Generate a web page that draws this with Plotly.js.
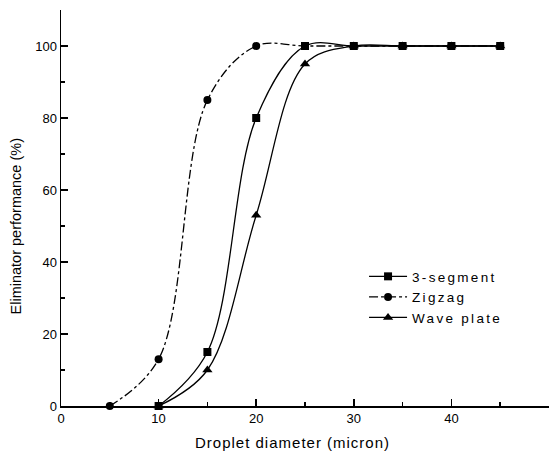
<!DOCTYPE html>
<html>
<head>
<meta charset="utf-8">
<script src="https://cdn.plot.ly/plotly-3.0.1.min.js"></script>
<style>
html,body{margin:0;padding:0;background:#fff}
#chart{width:554px;height:454px}
#chart .legendtext{letter-spacing:2.3px}
#chart g.legend g.scrollbox{clip-path:none !important}
#chart g.legend{clip-path:none !important}
#chart g.annotation[data-index="0"] text{letter-spacing:1px}
</style>
</head>
<body>
<div id="chart"></div>
<script>
var seg3X = [10, 15, 20, 25, 30, 35, 40, 45];
var seg3Y = [0, 15, 80, 100, 100, 100, 100, 100];
var zigX = [5, 10, 15, 20, 25, 30, 35, 40, 45];
var zigY = [0, 13, 85, 100, 100, 100, 100, 100, 100];
var waveX = [10, 15, 20, 25, 30, 35, 40, 45];
var waveY = [0, 10, 53, 95, 100, 100, 100, 100];
var seriesNames = ['3-segment', 'Zigzag', 'Wave plate'];
var xTitle = 'Droplet diameter (micron)';
var yTitle = 'Eliminator performance (%)';

var FONT = 'Liberation Sans, Arial, sans-serif';
var traces = [
  {x: seg3X, y: seg3Y, name: seriesNames[0], mode: 'lines+markers',
   line: {color: '#000', width: 1.3, shape: 'spline', smoothing: 1},
   marker: {symbol: 'square', size: 8, color: '#000'}, cliponaxis: false},
  {x: zigX, y: zigY, name: seriesNames[1], mode: 'lines+markers',
   line: {color: '#000', width: 1.3, shape: 'spline', smoothing: 1, dash: 'dashdot'},
   marker: {symbol: 'circle', size: 8, color: '#000'}, cliponaxis: false},
  {x: waveX, y: waveY, name: seriesNames[2], mode: 'lines+markers',
   line: {color: '#000', width: 1.3, shape: 'spline', smoothing: 1},
   marker: {symbol: 'triangle-up', size: 9, color: '#000'}, cliponaxis: false}
];

var layout = {
  width: 554, height: 454,
  margin: {l: 61, r: 5, t: 10, b: 48},
  paper_bgcolor: '#fff', plot_bgcolor: '#fff',
  font: {family: FONT, color: '#000', size: 13},
  showlegend: true,
  legend: {x: 0.621, y: 0.366, xanchor: 'left', yanchor: 'top', bgcolor: 'rgba(0,0,0,0)',
           itemwidth: 38, font: {family: FONT, size: 13.5, color: '#000'}},
  xaxis: {range: [0, 50], dtick: 10, tick0: 0, showgrid: false, zeroline: false,
          showline: true, linecolor: '#000', linewidth: 1.5,
          ticks: 'inside', ticklen: 7, tickwidth: 1.5, tickcolor: '#000',
          minor: {dtick: 5, ticks: 'inside', ticklen: 4, tickwidth: 1.5, tickcolor: '#000'},
          tickfont: {size: 13}},
  yaxis: {range: [0, 110], dtick: 20, tick0: 0, showgrid: false, zeroline: false,
          showline: true, linecolor: '#000', linewidth: 1.5,
          ticks: 'inside', ticklen: 7, tickwidth: 1.5, tickcolor: '#000',
          minor: {dtick: 10, ticks: 'inside', ticklen: 4, tickwidth: 1.5, tickcolor: '#000'},
          tickfont: {size: 13}},
  annotations: [
    {text: xTitle, xref: 'paper', yref: 'paper', x: 0.2705, y: -0.0934,
     xanchor: 'left', yanchor: 'middle', align: 'left', showarrow: false,
     font: {family: FONT, size: 15, color: '#000'}},
    {text: yTitle, xref: 'paper', yref: 'paper', x: -0.0902, y: 0.4533,
     xanchor: 'center', yanchor: 'middle', textangle: -90, showarrow: false,
     font: {family: FONT, size: 14.5, color: '#000'}}
  ]
};

Plotly.newPlot('chart', traces, layout, {displayModeBar: false, staticPlot: true});
</script>
</body>
</html>
